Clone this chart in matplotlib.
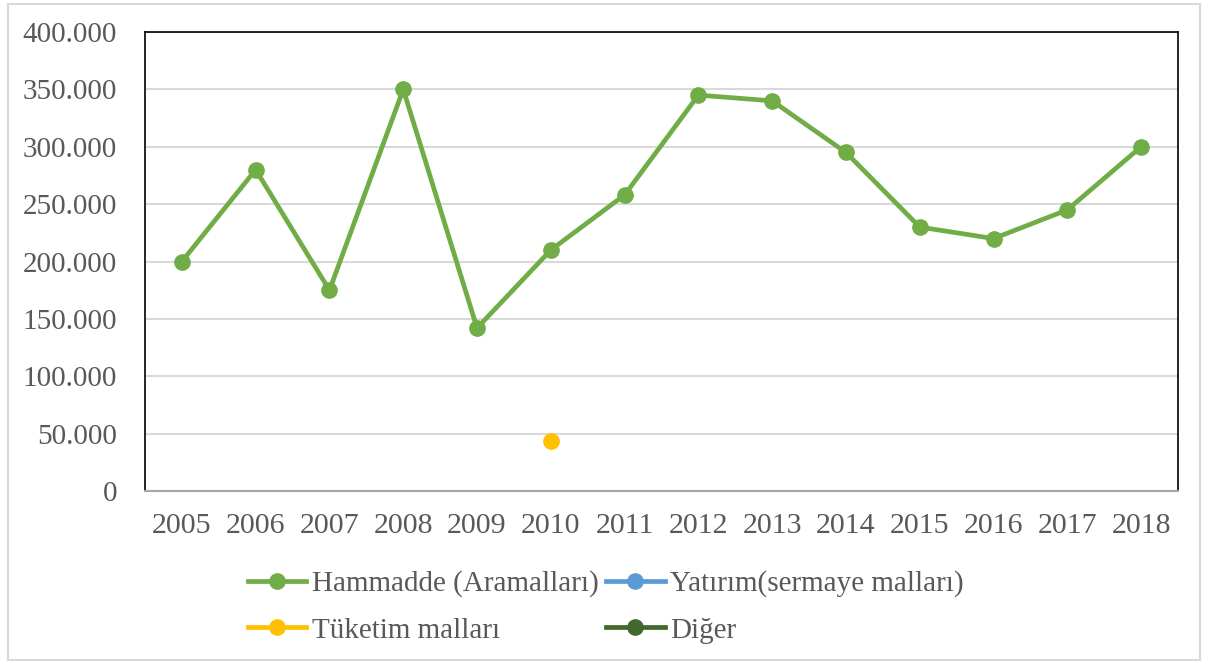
import matplotlib
matplotlib.use("Agg")
import matplotlib.pyplot as plt
from matplotlib.lines import Line2D
from matplotlib.patches import Rectangle
import numpy as np

years = ["2005", "2006", "2007", "2008", "2009", "2010", "2011",
         "2012", "2013", "2014", "2015", "2016", "2017", "2018"]
hammadde = [200, 280, 175, 350, 142, 210, 258, 345, 340, 295, 230, 220, 245, 300]
yatirim = [None] * 14
tuketim = [None, None, None, None, None, 44, None, None, None, None, None, None, None, None]
diger = [None] * 14
yticks = [0, 50, 100, 150, 200, 250, 300, 350, 400]
ytick_labels = ["0", "50.000", "100.000", "150.000", "200.000", "250.000",
                "300.000", "350.000", "400.000"]

names = ["Hammadde (Aramalları)", "Yatırım(sermaye malları)", "Tüketim malları", "Diğer"]
colors = ["#70AD47", "#5B9BD5", "#FFC000", "#43682B"]

plt.rcParams['font.family'] = ['Liberation Serif', 'DejaVu Serif']
txt = "#595959"

fig = plt.figure(figsize=(12.08, 6.68), dpi=100)
W, H = 1208, 668
ax = fig.add_axes([145 / W, 1 - 491 / H, (1178 - 145) / W, (491 - 32) / H])

x = np.arange(len(years))

def arr(v):
    return np.array([np.nan if a is None else a for a in v], dtype=float)

series = [hammadde, yatirim, tuketim, diger]
for s, c, n in zip(series, colors, names):
    ax.plot(x, arr(s), color=c, lw=3.4, marker='o', ms=11, label=n,
            solid_capstyle='round', zorder=3)

ax.set_xlim(-0.5, len(years) - 0.5)
ax.set_ylim(0, 400)
ax.set_yticks(yticks)
ax.set_yticklabels(ytick_labels)
ax.set_xticks(x)
ax.set_xticklabels(years)
ax.tick_params(axis='both', length=0, colors=txt)
ax.tick_params(axis='y', pad=20, labelsize=21)
ax.tick_params(axis='x', pad=16, labelsize=21.5)
ax.grid(axis='y', color='#D9D9D9', lw=1.5, zorder=0)
for sp in ['top', 'left', 'right']:
    ax.spines[sp].set_color('black')
    ax.spines[sp].set_linewidth(1.2)
ax.spines['bottom'].set_color('#A6A6A6')
ax.spines['bottom'].set_linewidth(1.5)

# outer border
fig.patches.append(Rectangle((8 / W, 1 - 660 / H), (1200 - 8) / W, (660 - 4) / H,
                             transform=fig.transFigure, fill=False,
                             edgecolor='#D9D9D9', lw=1.5))

handles = [Line2D([], [], color=c, lw=3.4, marker='o', ms=11) for c in colors]
order = [0, 2, 1, 3]
leg = fig.legend([handles[i] for i in order], [names[i] for i in order],
                 ncol=2, loc='center left', bbox_to_anchor=(248 / W, 1 - 607 / H),
                 frameon=False, fontsize=21, handlelength=2.0, handletextpad=0.2,
                 columnspacing=0.25, labelspacing=0.68, borderaxespad=0, borderpad=0)
for t in leg.get_texts():
    t.set_color(txt)

fig.savefig("out.png", dpi=100)
